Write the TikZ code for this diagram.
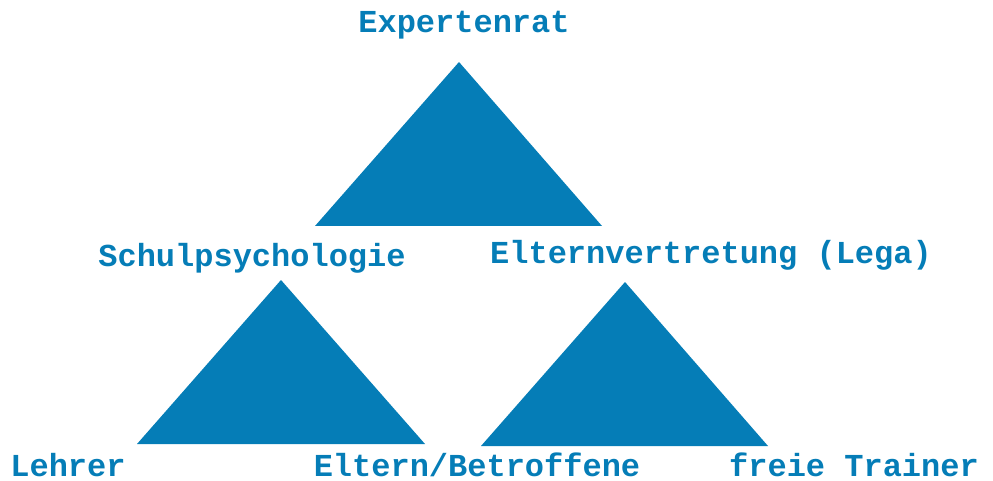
\documentclass[tikz,border=0pt]{standalone}
\usepackage{fontspec}
\setmonofont{Liberation Mono}
\definecolor{gremium}{RGB}{5,125,183}
\tikzstyle{Label}=[anchor=base, inner sep=0pt, text=gremium, font=\ttfamily\bfseries\fontsize{32}{36}\selectfont]
\tikzstyle{Block}=[fill=gremium, draw=none]

\begin{document}
\begin{tikzpicture}[x=1pt, y=-1pt]
    \useasboundingbox (0,0) rectangle (993,481);
    % corners of the three triangles
    \path
    (459,62) coordinate (topA) (315,226) coordinate (topL) (602,226) coordinate (topR)
    (281,280) coordinate (leftA) (137,444) coordinate (leftL) (425,444) coordinate (leftR)
    (625,282) coordinate (rightA) (481,446) coordinate (rightL) (768,446) coordinate (rightR);
    \fill[Block] (topA) -- (topL) -- (topR) -- cycle;
    \fill[Block] (leftA) -- (leftL) -- (leftR) -- cycle;
    \fill[Block] (rightA) -- (rightL) -- (rightR) -- cycle;

    \path
    (464,33) node[Label] (experts) {Expertenrat}
    (252,266) node[Label] (psych) {Schulpsychologie}
    (711,263) node[Label] (lega) {Elternvertretung (Lega)};
    % bottom row sits on the lower edge
    \path
    (68,476) node[Label, text depth=0pt] (teachers) {Lehrer}
    (477,476) node[Label, text depth=0pt] (parents) {Eltern/Betroffene}
    (854,476) node[Label, text depth=0pt] (trainers) {freie Trainer};
\end{tikzpicture}
\end{document}
